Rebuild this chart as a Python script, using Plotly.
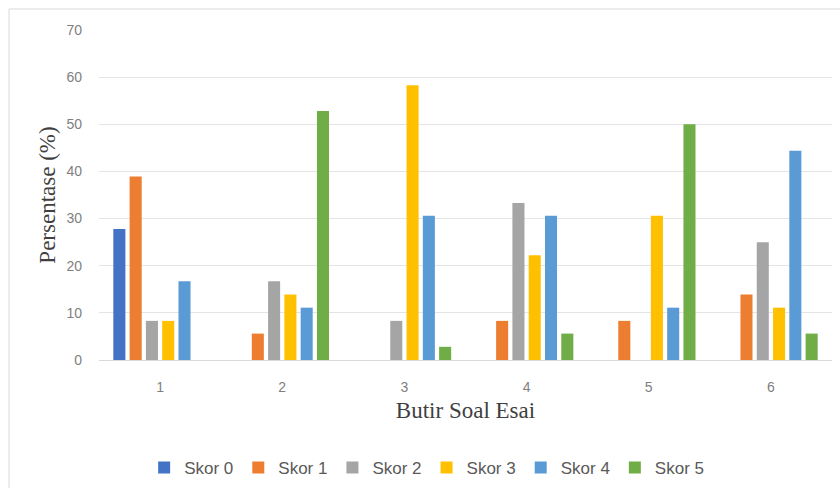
import plotly.graph_objects as go

# Butir soal (item) categories and score distribution per item (%)
items = ["1", "2", "3", "4", "5", "6"]
series_names = ["Skor 0", "Skor 1", "Skor 2", "Skor 3", "Skor 4", "Skor 5"]
skor_0 = [27.8, 0, 0, 0, 0, 0]
skor_1 = [38.9, 5.6, 0, 8.3, 8.3, 13.9]
skor_2 = [8.3, 16.7, 8.3, 33.3, 0, 25.0]
skor_3 = [8.3, 13.9, 58.3, 22.2, 30.6, 11.1]
skor_4 = [16.7, 11.1, 30.6, 30.6, 11.1, 44.4]
skor_5 = [0, 52.8, 2.8, 5.6, 50.0, 5.6]
y_ticks = [0, 10, 20, 30, 40, 50, 60, 70]

colors = ["#4472C4", "#ED7D31", "#A5A5A5", "#FFC000", "#5B9BD5", "#70AD47"]
all_series = [skor_0, skor_1, skor_2, skor_3, skor_4, skor_5]

fig = go.Figure()
for name, vals, col in zip(series_names, all_series, colors):
    fig.add_trace(go.Bar(x=items, y=vals, name=name, marker_color=col,
                         marker_line_width=0))

W, H = 840, 488
ml, mr, mt, mb = 99, 8, 30, 128
pw, ph = W - ml - mr, H - mt - mb

serif = "Liberation Serif, Times New Roman, serif"
tick_font = dict(family="Liberation Sans, Arial, sans-serif", size=14, color="#7F7F7F")

fig.update_layout(
    width=W, height=H,
    margin=dict(l=ml, r=mr, t=mt, b=mb, autoexpand=False),
    paper_bgcolor="white", plot_bgcolor="white",
    barmode="group", bargap=0.2, bargroupgap=0.26,
    font=dict(family="Liberation Sans, Arial, sans-serif", color="#595959"),
    showlegend=True,
    legend=dict(orientation="h", x=0.447, xanchor="center", y=-0.327,
                yanchor="middle", font=dict(size=17, color="#595959"),
                itemwidth=30, traceorder="normal"),
    xaxis=dict(showgrid=False, showline=True, linecolor="#D9D9D9",
               automargin=False,
               ticks="", tickfont=tick_font, ticklabelstandoff=14,
               title=dict(text="Butir Soal Esai",
                          font=dict(family=serif, size=23, color="#404040"),
                          standoff=8)),
    yaxis=dict(range=[0, 70], tickvals=y_ticks, showgrid=True,
               automargin=False,
               gridcolor="#E4E4E4", zeroline=False, showline=False,
               tickfont=tick_font, ticklabelstandoff=16,
               title=dict(text="Persentase (%)",
                          font=dict(family=serif, size=23, color="#404040"),
                          standoff=4)),
)

# Light chart-area border
x0 = (9 - ml) / pw
x1 = (845 - ml) / pw
y1 = 1 + (mt - 9) / ph
y0 = -(mb + 10) / ph
fig.add_shape(type="rect", xref="paper", yref="paper", x0=x0, x1=x1, y0=y0, y1=y1,
              line=dict(color="#D9D9D9", width=1), fillcolor="rgba(0,0,0,0)",
              layer="below")

fig.write_html("out.html")
